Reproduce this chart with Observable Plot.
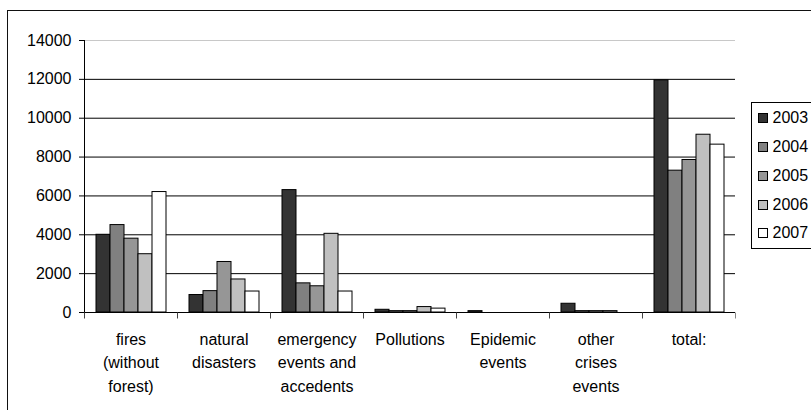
<!DOCTYPE html>
<html><head><meta charset="utf-8">
<script src="https://cdn.jsdelivr.net/npm/d3@7"></script>
<script src="https://cdn.jsdelivr.net/npm/@observablehq/plot@0.6"></script>
<style>
html,body{margin:0;padding:0;background:#fff;}
#wrap{position:relative;width:811px;height:410px;overflow:hidden;font-family:"Liberation Sans",Arial,sans-serif;}
#chart{position:absolute;left:0;top:0;}
#border{position:absolute;left:7px;top:9.5px;width:900px;height:500px;border:1.5px solid #111;box-sizing:border-box;}
#legend{position:absolute;left:750.5px;top:101.5px;width:80px;height:147px;border:1px solid #000;box-sizing:border-box;background:#fff;}
.item{position:absolute;left:6px;height:20px;display:flex;align-items:center;font-size:16px;color:#000;}
.sw{width:8px;height:8px;border:1px solid #000;margin-right:5px;}
</style></head>
<body><div id="wrap"><div id="chart"></div><div id="border"></div><div id="legend"></div></div>
<script>
const categories = ["fires\n(without\nforest)", "natural\ndisasters", "emergency\nevents and\naccedents", "Pollutions", "Epidemic\nevents", "other\ncrises\nevents", "total:"];
const years = ["2003", "2004", "2005", "2006", "2007"];
const v2003 = [4000, 900, 6300, 140, 70, 450, 11950];
const v2004 = [4500, 1100, 1500, 70, 0, 70, 7300];
const v2005 = [3800, 2600, 1350, 70, 0, 70, 7850];
const v2006 = [3000, 1700, 4050, 280, 0, 70, 9150];
const v2007 = [6200, 1080, 1080, 200, 0, 0, 8640];
const yTicks = [0, 2000, 4000, 6000, 8000, 10000, 12000, 14000];
const colors = ["#333333", "#808080", "#969696", "#c0c0c0", "#ffffff"];

const series = [v2003, v2004, v2005, v2006, v2007];
const data = [];
categories.forEach((c, i) => years.forEach((y, j) => data.push({category: c, year: y, value: series[j][i]})));

const tickSymbol = {draw(ctx) { ctx.moveTo(0, 0); ctx.lineTo(0, 6); }};

const chart = Plot.plot({
  width: 811, height: 410,
  marginLeft: 83, marginRight: 75, marginTop: 40, marginBottom: 98,
  style: {fontFamily: "'Liberation Sans', Arial, sans-serif", fontSize: "16px", background: "white", color: "black"},
  fx: {domain: categories, padding: 0, axis: null, label: null},
  x: {domain: years, paddingInner: 0, paddingOuter: 0.68, axis: null},
  y: {domain: [0, 14000], axis: null},
  color: {domain: years, range: colors},
  marks: [
    Plot.ruleY(yTicks.filter(t => t > 0 && t < 14000), {stroke: "black", strokeWidth: 1}),
    Plot.ruleY([14000], {stroke: "#c8c8c8", strokeWidth: 1}),
    Plot.barY(data.filter(d => d.value > 0), {fx: "category", x: "year", y: "value", fill: "year", stroke: "black", strokeWidth: 1}),
    Plot.ruleY([0], {stroke: "black", strokeWidth: 1}),
    Plot.frame({anchor: "left", facetAnchor: "left", stroke: "black"}),
    Plot.dot(categories, {fx: d => d, frameAnchor: "bottom-left", symbol: tickSymbol, fill: "none", stroke: "#444", strokeWidth: 1}),
    Plot.dot(categories.slice(-1), {fx: d => d, frameAnchor: "bottom-right", symbol: tickSymbol, fill: "none", stroke: "#888", strokeWidth: 1}),
    Plot.axisY({ticks: yTicks, tickSize: 5, tickPadding: 8, fontSize: 16, tickFormat: d => String(d), label: null, stroke: "black"}),
    Plot.axisFx({anchor: "bottom", tickSize: 0, tickPadding: 16, lineHeight: 1.46, fontSize: 16, label: null, tickFormat: d => d})
  ]
});
document.getElementById("chart").appendChild(chart);

const legend = document.getElementById("legend");
years.forEach((y, i) => {
  const it = document.createElement("div");
  it.className = "item";
  it.style.top = (5.8 + i * 28.75) + "px";
  const sw = document.createElement("div");
  sw.className = "sw";
  sw.style.background = colors[i];
  it.appendChild(sw);
  it.appendChild(document.createTextNode(y));
  legend.appendChild(it);
});
</script>
</body></html>
